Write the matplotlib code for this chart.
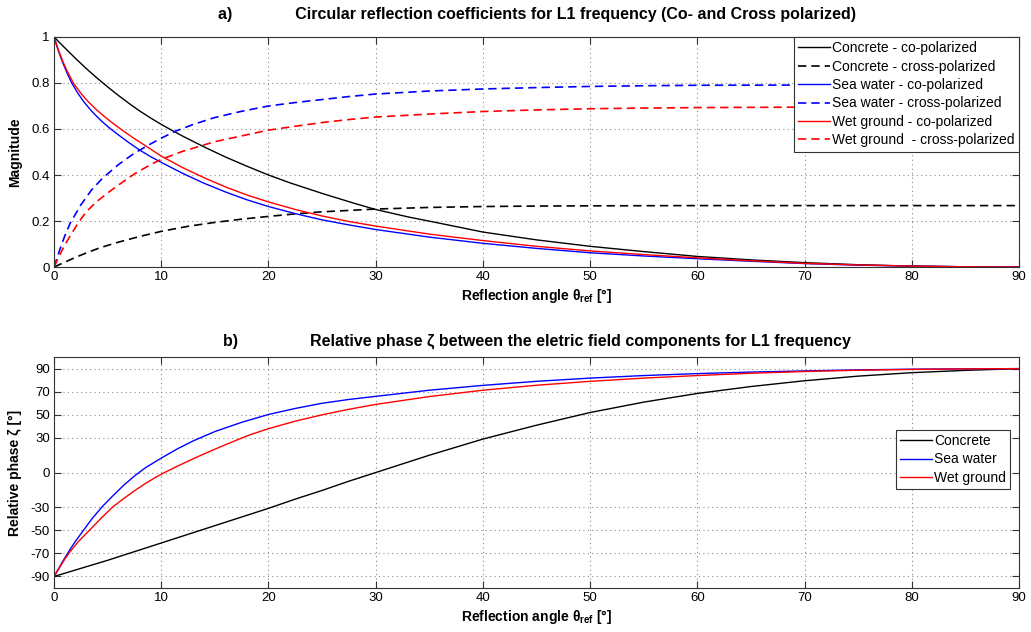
import numpy as np
import matplotlib
matplotlib.use('Agg')
import matplotlib.pyplot as plt

plt.rcParams['font.family'] = ['Liberation Sans', 'DejaVu Sans']
plt.rcParams['mathtext.fontset'] = 'custom'
plt.rcParams['mathtext.rm'] = 'Liberation Sans'
plt.rcParams['mathtext.it'] = 'Liberation Sans:italic'
plt.rcParams['mathtext.bf'] = 'Liberation Sans:bold'
plt.rcParams['axes.unicode_minus'] = False

# ---- panel a) magnitudes ----
conc_co_x = [0, 1, 2, 3, 4, 5, 6, 7, 8, 9, 10, 11, 12, 14, 16, 18, 20, 22, 25, 28, 30, 33, 36, 40, 45, 50, 55, 60, 65, 70, 75, 80, 85, 90]
conc_co_y = [1.0, 0.953, 0.907, 0.863, 0.822, 0.783, 0.746, 0.711, 0.678, 0.648, 0.62, 0.594, 0.569, 0.522, 0.478, 0.438, 0.40, 0.366, 0.32, 0.277, 0.25, 0.218, 0.19, 0.152, 0.118, 0.09, 0.067, 0.046, 0.031, 0.019, 0.01, 0.004, 0.001, 0.0]

conc_x_x = [0, 1, 2, 3, 4.3, 6, 8, 10, 12.5, 15, 17.5, 20, 22.5, 25, 30, 35, 40, 45, 50, 60, 70, 80, 90]
conc_x_y = [0.0, 0.021, 0.042, 0.061, 0.084, 0.108, 0.133, 0.155, 0.177, 0.194, 0.208, 0.22, 0.231, 0.24, 0.252, 0.259, 0.263, 0.265, 0.266, 0.267, 0.267, 0.267, 0.267]

sea_co_x = [0, 0.4, 0.8, 1.2, 1.65, 2.2, 2.8, 3.5, 4.3, 5.1, 5.9, 7, 8, 9, 10, 12, 14, 16, 18, 20, 22.5, 25, 27.5, 30, 35, 40, 45, 50, 55, 60, 65, 70, 75, 80, 85, 90]
sea_co_y = [1.0, 0.94, 0.89, 0.845, 0.80, 0.757, 0.717, 0.678, 0.64, 0.607, 0.578, 0.54, 0.508, 0.48, 0.455, 0.407, 0.364, 0.326, 0.292, 0.263, 0.232, 0.205, 0.183, 0.163, 0.13, 0.103, 0.081, 0.062, 0.048, 0.036, 0.025, 0.015, 0.008, 0.004, 0.001, 0.0]

sea_x_x = [0, 0.5, 1, 1.5, 2.5, 3.5, 4.5, 6, 7.5, 9, 10, 11.3, 13, 15, 17.5, 20, 22.5, 25, 27.5, 30, 35, 40, 45, 50, 55, 60, 70, 80, 90]
sea_x_y = [0.0, 0.07, 0.135, 0.19, 0.27, 0.335, 0.385, 0.445, 0.495, 0.535, 0.56, 0.59, 0.62, 0.65, 0.677, 0.70, 0.715, 0.728, 0.741, 0.752, 0.765, 0.774, 0.78, 0.785, 0.788, 0.79, 0.791, 0.791, 0.791]

wet_co_x = [0, 0.4, 0.8, 1.2, 1.8, 2.5, 3.2, 4, 4.8, 5.6, 6.5, 7.5, 8.5, 10, 12, 14, 16, 18, 20, 22.5, 25, 27.5, 30, 35, 40, 45, 50, 55, 60, 65, 70, 75, 80, 85, 90]
wet_co_y = [1.0, 0.944, 0.896, 0.854, 0.80, 0.755, 0.718, 0.682, 0.65, 0.621, 0.59, 0.558, 0.528, 0.482, 0.432, 0.388, 0.348, 0.313, 0.283, 0.25, 0.222, 0.198, 0.178, 0.143, 0.115, 0.09, 0.07, 0.054, 0.04, 0.027, 0.016, 0.009, 0.004, 0.001, 0.0]

wet_x_x = [0, 0.5, 1, 1.5, 2.3, 3, 4, 5, 6, 7.5, 9, 10, 12, 13.8, 15, 17.5, 20, 22.5, 25, 27.5, 30, 35, 40, 45, 50, 55, 60, 70, 80, 90]
wet_x_y = [0.0, 0.05, 0.095, 0.135, 0.195, 0.24, 0.285, 0.322, 0.356, 0.405, 0.445, 0.468, 0.503, 0.528, 0.545, 0.57, 0.595, 0.612, 0.628, 0.641, 0.652, 0.665, 0.676, 0.683, 0.688, 0.691, 0.693, 0.695, 0.696, 0.696]

# ---- panel b) relative phase ----
conc_ph_x = [0, 2.5, 5, 7.5, 10, 12.5, 15, 17.5, 20, 22.5, 25, 27.5, 30, 32.5, 35, 37.5, 40, 45, 50, 55, 60, 65, 70, 75, 80, 85, 90]
conc_ph_y = [-90, -83, -76, -68.5, -61, -53.5, -46, -38.5, -31, -23, -15.5, -7.5, 0, 7.5, 15, 22, 29, 41, 52, 61, 68.5, 74.5, 79.5, 83.5, 86.5, 88.5, 90]

sea_ph_x = [0, 0.5, 1, 1.5, 2, 2.75, 3.5, 4.5, 5.5, 6.5, 7.5, 8.5, 10, 11.5, 13, 15, 17.5, 20, 22.5, 25, 27.5, 30, 35, 40, 45, 50, 55, 60, 65, 70, 75, 80, 85, 90]
sea_ph_y = [-90, -82, -74, -66.5, -59.5, -50, -40.5, -29.5, -20, -11, -3, 4, 12.5, 20.5, 27.5, 35.5, 43.5, 50.3, 55.5, 60, 63.3, 66, 71.3, 75.5, 79, 81.8, 84, 85.7, 87, 88, 88.9, 89.5, 89.8, 90]

wet_ph_x = [0, 0.5, 1, 1.5, 2.25, 3.3, 4.4, 5.45, 6.5, 7.5, 8.5, 9.5, 10.3, 11.5, 13, 14, 15.5, 17.35, 18.3, 20, 22.5, 25, 27.5, 30, 35, 40, 45, 50, 55, 60, 65, 70, 75, 80, 85, 90]
wet_ph_y = [-90, -82.5, -75, -68.5, -60, -50, -39.5, -30, -22.5, -15.8, -9.6, -4, 0, 5.5, 12, 16.2, 22.2, 29.3, 32.8, 38, 44.5, 50, 54.8, 59, 65.8, 71.3, 75.6, 79, 81.8, 84, 86, 87.5, 88.6, 89.3, 89.8, 90]

dash = (0, (5, 3))
fs = 9.5
lfs = 10

fig = plt.figure(figsize=(10.31, 6.32), dpi=100)
ax1 = fig.add_axes([0.0524, 0.5775, 0.936, 0.364])
ax2 = fig.add_axes([0.0524, 0.0696, 0.936, 0.3654])

ax1.plot(conc_co_x, conc_co_y, color='k', lw=1.0, label='Concrete - co-polarized')
ax1.plot(conc_x_x, conc_x_y, color='k', lw=1.2, ls=dash, label='Concrete - cross-polarized')
ax1.plot(sea_co_x, sea_co_y, color='b', lw=1.0, label='Sea water - co-polarized')
ax1.plot(sea_x_x, sea_x_y, color='b', lw=1.2, ls=dash, label='Sea water - cross-polarized')
ax1.plot(wet_co_x, wet_co_y, color='r', lw=1.0, label='Wet ground - co-polarized')
ax1.plot(wet_x_x, wet_x_y, color='r', lw=1.2, ls=dash, label='Wet ground  - cross-polarized')

ax2.plot(conc_ph_x, conc_ph_y, color='k', lw=1.0, label='Concrete')
ax2.plot(sea_ph_x, sea_ph_y, color='b', lw=1.0, label='Sea water')
ax2.plot(wet_ph_x, wet_ph_y, color='r', lw=1.0, label='Wet ground')

ax1.set_xlim(0, 90)
ax1.set_ylim(0, 1)
ax1.set_yticks([0, 0.2, 0.4, 0.6, 0.8, 1])
ax1.set_yticklabels(['0', '0.2', '0.4', '0.6', '0.8', '1'])
ax2.set_xlim(0, 90)
ax2.set_ylim(-100, 100)
ax2.set_yticks([-90, -70, -50, -30, 0, 30, 50, 70, 90])

for ax in (ax1, ax2):
    ax.set_xticks(range(0, 91, 10))
    ax.grid(True, color='#888888', ls=(0, (1, 3)), lw=0.8)
    ax.tick_params(direction='in', top=True, right=True, length=5, width=0.8, labelsize=fs,
                   colors='#333333', labelcolor='k', pad=3)
    for s in ax.spines.values():
        s.set_color('#333333')
        s.set_linewidth(0.8)
    ax.set_xlabel(r'Reflection angle $\mathbf{\theta_{ref}}$ [°]', fontsize=lfs, fontweight='bold', labelpad=3)

ax1.set_ylabel('Magnitude', fontsize=lfs, fontweight='bold')
ax2.set_ylabel('Relative phase ζ [°]', fontsize=lfs, fontweight='bold')
ax1.yaxis.set_label_coords(-0.033, 0.5)
ax2.yaxis.set_label_coords(-0.033, 0.5)
ax1.set_title('a)' + ' ' * 14 + 'Circular reflection coefficients for L1 frequency (Co- and Cross polarized)',
              fontsize=11.5, fontweight='bold', pad=13)
ax2.set_title('b)' + ' ' * 16 + 'Relative phase ζ between the eletric field components for L1 frequency',
              fontsize=11.5, fontweight='bold', pad=8.5)

leg1 = ax1.legend(loc='upper right', borderaxespad=0, fontsize=lfs, handlelength=2.3,
                  handletextpad=0.15, labelspacing=0.32, borderpad=0.3, fancybox=False, framealpha=1)
leg1.get_frame().set_edgecolor('#333333')
leg1.get_frame().set_linewidth(0.8)
leg2 = ax2.legend(loc='upper right', bbox_to_anchor=(0.9907, 0.684), borderaxespad=0, fontsize=lfs,
                  handlelength=2.3, handletextpad=0.15, labelspacing=0.3, borderpad=0.3,
                  fancybox=False, framealpha=1)
leg2.get_frame().set_edgecolor('#333333')
leg2.get_frame().set_linewidth(0.8)

fig.savefig('out.png', dpi=100)
